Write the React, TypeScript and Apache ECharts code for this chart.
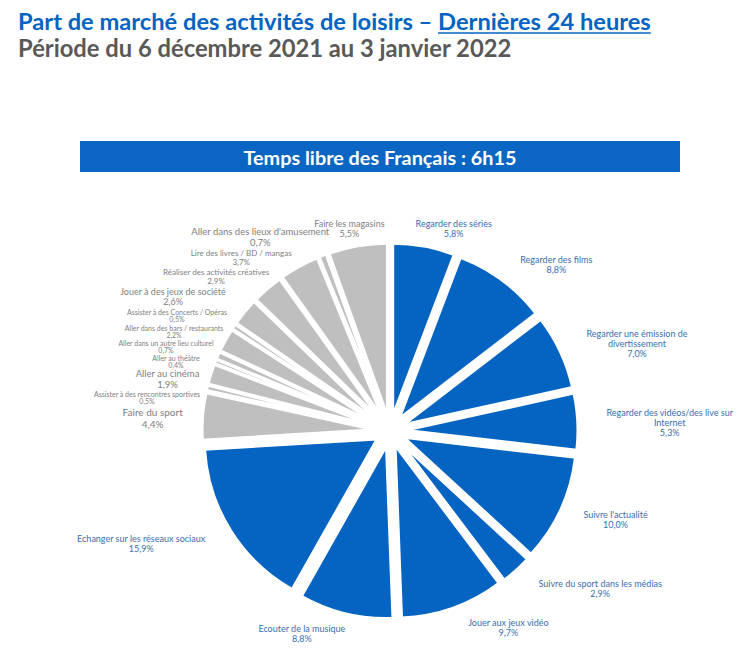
import React, { useEffect, useRef } from 'react';
import * as echarts from 'echarts';

// ---- texts ----
const TITLE_1 = 'Part de marché des activités de loisirs – ';
const TITLE_1_LINK = 'Dernières 24 heures';
const TITLE_2 = 'Période du 6 décembre 2021 au 3 janvier 2022';
const BANNER = 'Temps libre des Français : 6h15';

// ---- data (share of leisure time, %) ----
const screenCategories = [
  'Regarder des séries',
  'Regarder des films',
  'Regarder une émission de\ndivertissement',
  'Regarder des vidéos/des live sur\nInternet',
  "Suivre l'actualité",
  'Suivre du sport dans les médias',
  'Jouer aux jeux vidéo',
  'Ecouter de la musique',
  'Echanger sur les réseaux sociaux',
];
const screenValues = [5.8, 8.8, 7.0, 5.3, 10.0, 2.9, 9.7, 8.8, 15.9];

const otherCategories = [
  'Faire du sport',
  'Assister à des rencontres sportives',
  'Aller au cinéma',
  'Aller au théâtre',
  'Aller dans un autre lieu culturel',
  'Aller dans des bars / restaurants',
  'Assister à des Concerts / Opéras',
  'Jouer à des jeux de société',
  'Réaliser des activités créatives',
  'Lire des livres / BD / mangas',
  "Aller dans des lieux d'amusement",
  'Faire les magasins',
];
const otherValues = [4.4, 0.5, 1.9, 0.4, 0.7, 2.2, 0.5, 2.6, 2.9, 3.7, 0.7, 5.5];

// ---- styling (not data) ----
const BLUE = '#0563C1';
const GREY = '#BFBFBF';
const BLUE_TEXT = '#3a6db0';
const GREY_TEXT = '#808080';
const FONT = 'Lato, "Noto Sans", sans-serif';

const labelSizes = [9, 9, 9, 9, 9, 9, 9, 9, 9, 10, 7, 9.5, 7, 7, 7, 7, 9, 8, 8, 9.5, 9];
const labelShift: [number, number][] = [
  [23, 19], [32, 14], [43, 7], [55, 3], [21, -5], [59, -9], [43, -15], [-35, -16], [-58, -7],
  [-13, 5], [-24, 18], [-8, 16], [-5, 14], [-18, 6], [-19, 9], [-26, 10], [-43, 8], [-27, 16],
  [-40, 23], [-49, 16], [-2, 19],
];

const fmt = (v: number) => v.toFixed(1).replace('.', ',') + '%';

function measure(text: string, font: string): number {
  const c = document.createElement('canvas').getContext('2d');
  if (!c) return text.length * 10;
  c.font = font;
  return c.measureText(text).width;
}

export default function App() {
  const ref = useRef<HTMLDivElement>(null);

  useEffect(() => {
    document.body.style.margin = '0';
    if (!ref.current) return;
    const chart = echarts.init(ref.current, undefined, { renderer: 'svg' });

    const names = [...screenCategories, ...otherCategories];
    const values = [...screenValues, ...otherValues];
    const colors = names.map((_, i) => (i < screenCategories.length ? BLUE : GREY));
    const textColors = names.map((_, i) => (i < screenCategories.length ? BLUE_TEXT : GREY_TEXT));

    // title font sizes fitted to the reference widths
    const t1Base = measure(TITLE_1 + TITLE_1_LINK, `bold 20px ${FONT}`);
    const t1Size = (20 * 633) / t1Base;
    const t1Font = `bold ${t1Size}px ${FONT}`;
    const w1 = measure(TITLE_1, t1Font);
    const w2 = measure(TITLE_1_LINK, t1Font);
    const t2Size = (20 * 494) / measure(TITLE_2, `bold 20px ${FONT}`);
    const bSize = (18 * 273) / measure(BANNER, `bold 18px ${FONT}`);

    const option: any = {
      animation: false,
      graphic: [
        {
          type: 'text', x: 18, y: 21,
          style: { text: TITLE_1, font: t1Font, fill: BLUE, verticalAlign: 'middle', align: 'left' },
        },
        {
          type: 'text', x: 18 + w1, y: 21,
          style: { text: TITLE_1_LINK, font: t1Font, fill: BLUE, verticalAlign: 'middle', align: 'left' },
        },
        {
          type: 'line',
          shape: { x1: 18 + w1, y1: 33, x2: 18 + w1 + w2, y2: 33 },
          style: { stroke: BLUE, lineWidth: 1.5 },
        },
        {
          type: 'text', x: 18, y: 48,
          style: { text: TITLE_2, font: `bold ${t2Size}px ${FONT}`, fill: '#595959', verticalAlign: 'middle', align: 'left' },
        },
        {
          type: 'rect', shape: { x: 80, y: 141, width: 600, height: 31 },
          style: { fill: '#0a66c2' },
        },
        {
          type: 'text', x: 380, y: 157,
          style: { text: BANNER, font: `bold ${bSize}px ${FONT}`, fill: '#ffffff', verticalAlign: 'middle', align: 'center' },
        },
      ],
      series: [
        {
          type: 'pie',
          center: [390, 431],
          radius: 173,
          startAngle: 90,
          clockwise: true,
          selectedMode: 'multiple',
          selectedOffset: 15,
          avoidLabelOverlap: false,
          label: { show: false },
          labelLine: { show: false },
          emphasis: { disabled: true },
          itemStyle: { borderColor: '#ffffff', borderWidth: 3 },
          select: { itemStyle: { borderColor: '#ffffff', borderWidth: 3 } },
          data: names.map((n, i) => ({
            name: n,
            value: values[i],
            selected: true,
            itemStyle: { color: colors[i] },
            select: { itemStyle: { color: colors[i], borderColor: '#ffffff', borderWidth: 3 } },
          })),
        },
        {
          type: 'pie',
          center: [390, 431],
          radius: [212, 232],
          startAngle: 90,
          clockwise: true,
          silent: true,
          avoidLabelOverlap: false,
          emphasis: { disabled: true },
          itemStyle: { color: 'rgba(0,0,0,0)' },
          labelLine: { show: false },
          label: {
            show: true,
            position: 'inside',
            rotate: 0,
            fontFamily: FONT,
            formatter: (p: any) => `${p.name}\n${fmt(p.value)}`,
          },
          labelLayout: (p: any) => {
            const s = labelShift[p.dataIndex] || [0, 0];
            return { dx: s[0], dy: s[1] };
          },
          data: names.map((n, i) => ({
            name: n,
            value: values[i],
            label: {
              color: textColors[i],
              fontSize: labelSizes[i],
              lineHeight: labelSizes[i] < 8 ? 7 : Math.round(labelSizes[i] * 1.15),
            },
          })),
        },
      ],
    };

    chart.setOption(option);
    return () => chart.dispose();
  }, []);

  return <div ref={ref} style={{ width: 750, height: 652 }} />;
}
